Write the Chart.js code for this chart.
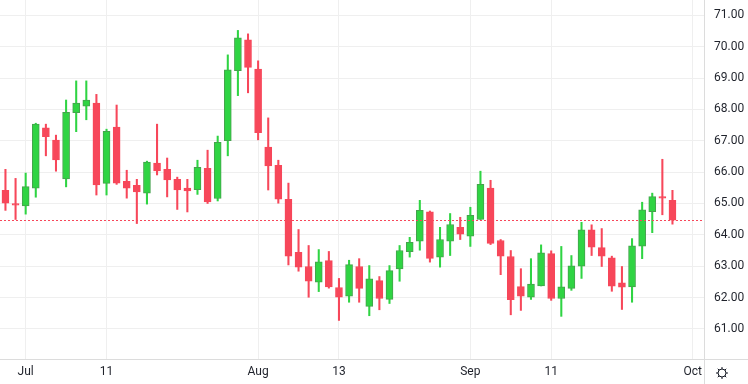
<!DOCTYPE html>
<html>
<head>
<meta charset="utf-8">
<script src="https://cdn.jsdelivr.net/npm/chart.js@4"></script>
<style>
  html, body { margin: 0; padding: 0; background: #ffffff; }
  #wrap { width: 748px; height: 384px; }
</style>
</head>
<body>
<div id="wrap"><canvas id="chart" width="748" height="384"></canvas></div>
<script>
// daily candles, first two sessions are the last days of June
const open  = [65.42, 65.00, 64.92, 65.49, 67.41, 67.02, 65.78, 67.90, 68.10, 68.20,
               65.64, 67.44, 65.71, 65.58, 65.33, 66.29, 66.09, 65.77, 65.49, 65.44,
               66.12, 65.16, 67.00, 69.24, 70.22, 69.29, 66.80, 66.22, 65.13, 63.44,
               62.99, 62.49, 63.18, 62.32, 62.04, 62.99, 61.72, 62.54, 61.94, 62.91,
               63.46, 63.80, 64.73, 63.29, 63.80, 64.24, 63.96, 64.49, 65.49, 63.82,
               63.31, 62.35, 62.01, 62.37, 63.40, 61.97, 62.29, 63.00, 64.16, 63.59,
               63.27, 62.47, 62.34, 63.64, 64.74, 65.22, 65.10];
const high  = [66.09, 65.80, 65.97, 67.56, 67.53, 67.18, 68.30, 68.91, 68.91, 68.48,
               67.37, 68.14, 66.06, 65.77, 66.35, 67.53, 66.45, 65.84, 65.77, 66.38,
               66.70, 67.15, 69.74, 70.52, 70.41, 69.55, 67.73, 66.38, 65.65, 64.17,
               63.66, 63.53, 63.47, 62.61, 63.19, 63.24, 63.02, 62.67, 63.02, 63.66,
               63.92, 65.10, 64.76, 64.24, 64.68, 64.56, 64.88, 66.03, 65.74, 63.85,
               63.50, 62.92, 63.24, 63.68, 63.49, 63.63, 63.34, 64.40, 64.32, 64.20,
               63.32, 62.99, 63.88, 65.04, 65.33, 66.41, 65.42];
const low   = [64.78, 64.49, 64.66, 65.20, 66.52, 66.03, 65.53, 67.29, 67.67, 65.27,
               65.27, 65.61, 65.17, 64.36, 64.98, 65.91, 65.21, 64.81, 64.73, 65.29,
               65.00, 65.08, 66.52, 68.44, 68.53, 67.03, 65.43, 65.01, 63.04, 62.84,
               62.01, 62.19, 62.30, 61.27, 61.85, 61.85, 61.42, 61.61, 61.81, 62.52,
               63.29, 63.51, 63.13, 62.97, 63.34, 63.85, 63.63, 64.49, 63.69, 62.73,
               61.45, 61.59, 61.94, 62.37, 61.91, 61.40, 62.23, 62.61, 63.34, 62.99,
               62.20, 61.62, 61.85, 63.24, 64.07, 64.64, 64.34];
const close = [65.01, 64.95, 65.54, 67.53, 67.13, 66.39, 67.91, 68.20, 68.30, 65.59,
               67.30, 65.65, 65.49, 65.37, 66.32, 66.04, 65.75, 65.43, 65.40, 66.15,
               65.05, 66.95, 69.26, 70.28, 69.34, 67.26, 66.20, 65.14, 63.32, 62.97,
               62.52, 63.14, 62.34, 62.01, 63.05, 62.29, 62.60, 61.97, 62.86, 63.50,
               63.76, 64.78, 63.25, 63.85, 64.33, 64.02, 64.62, 65.61, 63.73, 63.32,
               61.93, 62.04, 62.43, 63.43, 61.97, 62.34, 63.01, 64.16, 63.61, 63.32,
               62.36, 62.33, 63.65, 64.80, 65.22, 65.17, 64.47];

// time axis labels, placed on the session number
const tickPos  = [2, 10, 25, 33, 46, 54, 68];
const tickText = ['Jul', '11', 'Aug', '13', 'Sep', '11', 'Oct'];
const priceTicks = [61, 62, 63, 64, 65, 66, 67, 68, 69, 70, 71];

const upcolor = '#2fd443';
const upborder = '#45a24d';
const downcolor = '#f7475a';
const textcolor = '#1f222b';
const gridcolor = '#efefef';
const linecolor = '#dcdcdc';

const up = open.map((o, i) => close[i] >= o);
const bodies = open.map((o, i) => ({ x: i, y: [o, close[i]] }));
const wicks = open.map((o, i) => ({ x: i, y: [low[i], high[i]] }));
const lastclose = close[close.length - 1];

const fontspec = { family: 'Roboto, "Liberation Sans", sans-serif', size: 12 };

// no extra room for the outer labels, the plot runs to the canvas edges
const nopadding = (scale) => {
  scale.paddingTop = 0;
  scale.paddingBottom = 0;
  scale.paddingLeft = 0;
  scale.paddingRight = 0;
};

new Chart(document.getElementById('chart').getContext('2d'), {
  type: 'bar',
  data: {
    datasets: [
      {
        label: 'body',
        data: bodies,
        order: 1,
        barThickness: 7,
        backgroundColor: up.map(u => u ? upcolor : downcolor),
        borderColor: up.map(u => u ? upborder : downcolor),
        borderWidth: 1,
        borderSkipped: false,
        grouped: false,
      },
      {
        label: 'wick',
        data: wicks,
        order: 2,
        barThickness: 1.4,
        backgroundColor: up.map(u => u ? upcolor : downcolor),
        borderWidth: 0,
        grouped: false,
      },
    ],
  },
  options: {
    responsive: false,
    animation: false,
    layout: { padding: 0 },
    plugins: {
      legend: { display: false },
      tooltip: { enabled: false },
    },
    scales: {
      x: {
        type: 'linear',
        offset: false,
        min: -0.54,
        max: 69.12,
        afterFit: (scale) => { scale.height = 25; nopadding(scale); },
        afterBuildTicks: (scale) => { scale.ticks = tickPos.map(v => ({ value: v })); },
        ticks: {
          autoSkip: false,
          maxRotation: 0,
          padding: 6,
          color: textcolor,
          font: fontspec,
          callback: (v) => tickText[tickPos.indexOf(v)],
        },
        grid: { color: gridcolor, drawTicks: false, offset: false },
        border: { display: false },
      },
      y: {
        type: 'linear',
        position: 'right',
        min: 60.04,
        max: 71.49,
        afterFit: (scale) => { scale.width = 44; nopadding(scale); },
        afterBuildTicks: (scale) => { scale.ticks = priceTicks.map(v => ({ value: v })); },
        ticks: {
          padding: 10,
          color: textcolor,
          font: fontspec,
          callback: (v) => Number(v).toFixed(2),
        },
        grid: { color: gridcolor, drawTicks: false },
        border: { display: false },
      },
    },
  },
  plugins: [
    {
      id: 'frame',
      beforeDraw: (chart) => {
        const ctx = chart.ctx;
        ctx.save();
        ctx.fillStyle = '#ffffff';
        ctx.fillRect(0, 0, chart.width, chart.height);
        ctx.restore();
      },
      afterDatasetsDraw: (chart) => {
        const ctx = chart.ctx;
        const area = chart.chartArea;
        const y = Math.round(chart.scales.y.getPixelForValue(lastclose)) + 0.5;
        ctx.save();
        ctx.strokeStyle = downcolor;
        ctx.lineWidth = 1;
        ctx.setLineDash([2, 2]);
        ctx.beginPath();
        ctx.moveTo(area.left, y);
        ctx.lineTo(area.right, y);
        ctx.stroke();
        ctx.restore();
      },
      afterDraw: (chart) => {
        const ctx = chart.ctx;
        const area = chart.chartArea;
        const xr = Math.round(area.right) + 0.5;
        const yb = Math.round(area.bottom) + 0.5;
        ctx.save();
        ctx.strokeStyle = linecolor;
        ctx.lineWidth = 1;
        ctx.beginPath();
        ctx.moveTo(0, yb);
        ctx.lineTo(chart.width, yb);
        ctx.moveTo(xr, 0);
        ctx.lineTo(xr, chart.height);
        ctx.stroke();

        // settings gear in the corner
        const cx = 722, cy = 373;
        ctx.strokeStyle = '#131722';
        ctx.lineWidth = 1;
        ctx.beginPath();
        ctx.arc(cx, cy, 4, 0, Math.PI * 2);
        ctx.stroke();
        ctx.beginPath();
        for (let k = 0; k < 8; k++) {
          const a = k * Math.PI / 4;
          ctx.moveTo(cx + Math.cos(a) * 4, cy + Math.sin(a) * 4);
          ctx.lineTo(cx + Math.cos(a) * 6, cy + Math.sin(a) * 6);
        }
        ctx.stroke();
        ctx.restore();
      },
    },
  ],
});
</script>
</body>
</html>
